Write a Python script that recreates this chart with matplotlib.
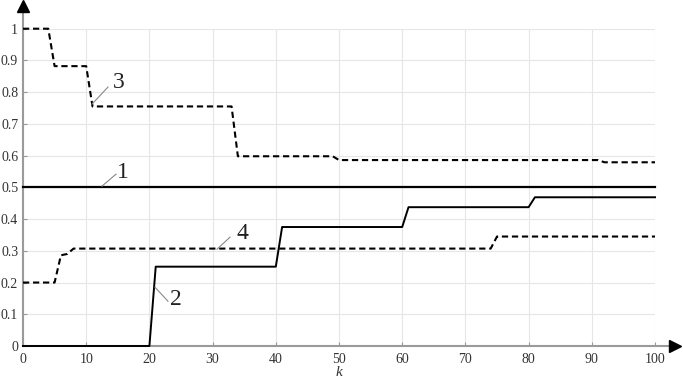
import matplotlib
matplotlib.use("Agg")
import matplotlib.pyplot as plt

# Data (breakpoints of piecewise-linear curves)
k1 = [0, 100]
y1 = [0.5, 0.5]

k2 = [0, 20, 21, 40, 41, 60, 61, 80, 81, 100]
y2 = [0, 0, 0.25, 0.25, 0.375, 0.375, 0.4375, 0.4375, 0.46875, 0.46875]

k3 = [0, 4, 5, 10, 11, 33, 34, 49, 50, 91, 92, 100]
y3 = [1.0, 1.0, 0.882, 0.882, 0.755, 0.755, 0.598, 0.598, 0.586, 0.586, 0.579, 0.579]

k4 = [0, 5, 6, 7, 8, 74, 75, 100]
y4 = [0.2, 0.2, 0.286, 0.29, 0.307, 0.307, 0.345, 0.345]

xticks = list(range(0, 101, 10))
yticks = [0, 0.1, 0.2, 0.3, 0.4, 0.5, 0.6, 0.7, 0.8, 0.9, 1.0]
ytick_labels = ["0", "0.1", "0.2", "0.3", "0.4", "0.5", "0.6", "0.7", "0.8", "0.9", "1"]

plt.rcParams['font.family'] = ['Liberation Serif', 'DejaVu Serif']

fig = plt.figure(figsize=(6.83, 3.84), dpi=100)
ax = fig.add_axes([23/683, 1-346/384, (655-23)/683, (346-28.7)/384])

ax.set_xlim(0, 100)
ax.set_ylim(0, 1)

ax.grid(True, color='#e6e6e6', linewidth=0.8)
ax.set_axisbelow(True)

for s in ax.spines.values():
    s.set_visible(False)

# axes lines with arrowheads
tr = ax.transAxes
ax.plot([0, 1.023], [0, 0], transform=tr, color='#9a9a9a', lw=1.5, clip_on=False, zorder=2)
ax.plot([0, 0], [0, 1.055], transform=tr, color='#9a9a9a', lw=1.5, clip_on=False, zorder=2)
ax.plot([1.031], [0], transform=tr, marker='>', markersize=9, color='black', clip_on=False, zorder=3)
ax.plot([0], [1.071], transform=tr, marker='^', markersize=9, color='black', clip_on=False, zorder=3)

dash = (0, (3.0, 1.8))
ax.plot(k1, y1, color='black', lw=1.6, clip_on=False, zorder=4)
ax.plot(k2, y2, color='black', lw=1.4, clip_on=False, zorder=4)
ax.plot(k3, y3, color='black', lw=1.5, linestyle=dash, clip_on=False, zorder=4)
ax.plot(k4, y4, color='black', lw=1.5, linestyle=dash, clip_on=False, zorder=4)

ax.set_xticks(xticks)
ax.set_yticks(yticks)
ax.set_yticklabels(ytick_labels)
ax.tick_params(direction='in', length=3, color='#999999', labelsize=10,
               labelcolor='#333333')
ax.tick_params(axis='y', pad=3.5)
ax.tick_params(axis='x', pad=5)

ax.set_xlabel('k', fontstyle='italic', fontsize=11, labelpad=0, color='#333333')

# curve labels with leader lines
lc = '#888888'
def lab(txt, pt, tp, lp):
    ax.plot([pt[0], tp[0]], [pt[1], tp[1]], color=lc, lw=0.8, clip_on=False, zorder=5)
    ax.text(lp[0], lp[1], txt, fontsize=17, ha='center', va='center', color='#222222')

def px2d(x, y):
    return ((x - 23) / 6.32, (345.7 - y) / 317.0)

lab('1', px2d(102, 186), px2d(116, 174), px2d(123, 172))
lab('3', px2d(92, 104), px2d(108, 87), px2d(119, 82))
lab('4', px2d(217, 249), px2d(230, 237), px2d(242, 233))
lab('2', px2d(155, 287), px2d(168, 301), px2d(176, 299))

fig.savefig('out.png', dpi=100)
